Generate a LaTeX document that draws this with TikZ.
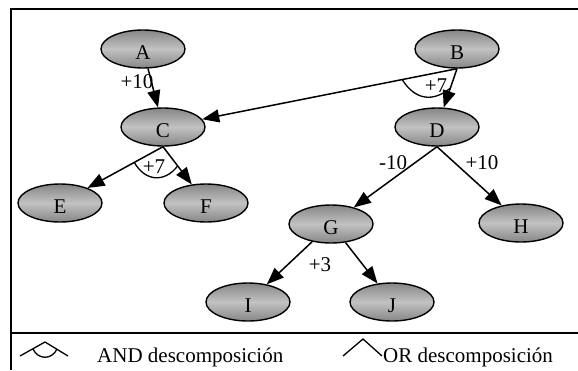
\documentclass[tikz,border=0pt]{standalone}
\usepackage{fontspec}
\setmainfont{Liberation Serif}
\usetikzlibrary{shapes.geometric,arrows.meta}
\begin{document}
\begin{tikzpicture}[x=1pt,y=-1pt,
    goal/.style={ellipse,draw,line width=1.4pt,minimum width=84pt,minimum height=38pt,inner sep=0pt,
      top color=gray!95,bottom color=gray!95,middle color=gray!48,
      text height=20pt,text depth=0pt,font=\fontsize{21}{23}\selectfont},
    link/.style={line width=1.5pt,-{Triangle[length=17pt,width=13pt]}},
    weight/.style={font=\fontsize{21}{23}\selectfont,inner sep=0pt},
    arcline/.style={line width=1.3pt}]
        \useasboundingbox (0,0) rectangle (578,370);
        \draw[line width=2pt] (578,9) -- (11,9) -- (11,370);
        \draw[line width=1.6pt] (11,333) -- (578,333);
        \node[goal] (A) at (143,49) {A};
        \node[goal] (B) at (457,49) {B};
        \node[goal] (C) at (163,127) {C};
        \node[goal] (D) at (437,127) {D};
        \node[goal] (E) at (60,203) {E};
        \node[goal] (F) at (206,203) {F};
        \node[goal] (G) at (331,224) {G};
        \node[goal] (H) at (521,223) {H};
        \node[goal] (I) at (248,302) {I};
        \node[goal] (J) at (392,302) {J};
        \draw[link] (A) -- (C);
        \draw[link] (B.south) -- coordinate[pos=.215] (bc) (C);
        \draw[link] (B.south) -- coordinate[pos=.5] (bd) (D);
        \draw[link] (C.south) -- coordinate[pos=.38] (ce) (E);
        \draw[link] (C.south) -- coordinate[pos=.51] (cf) (F);
        \draw[link] (D.south) -- (G);
        \draw[link] (D.south) -- (H);
        \draw[link] (G) -- (I);
        \draw[link] (G) -- (J);
        \draw[arcline] (bc) .. controls +(13,21) and +(-17,14) .. (bd);
        \draw[arcline] (ce) .. controls +(10,18) and +(-14,18) .. (cf);
        \node[weight] (wac) at (137,82) {+10};
        \node[weight] (wbd) at (436,86) {+7};
        \node[weight] (wcf) at (154,167) {+7};
        \node[weight] (wdg) at (393,163) {-10};
        \node[weight] (wdh) at (482,163) {+10};
        \node[weight] (wgi) at (320,265) {+3};
        \draw[arcline] (20,356) -- (45,342) -- (68,356);
        \draw[arcline] (33,349) .. controls (38,360) and (52,360) .. (57,349);
        \draw[arcline] (343,356) -- (363,339) -- (382,356);
        \node[weight,anchor=base west] (andkey) at (97,362) {AND descomposición};
        \node[weight,anchor=base west] (orkey) at (383,362) {OR descomposición};
      \end{tikzpicture}
\end{document}
